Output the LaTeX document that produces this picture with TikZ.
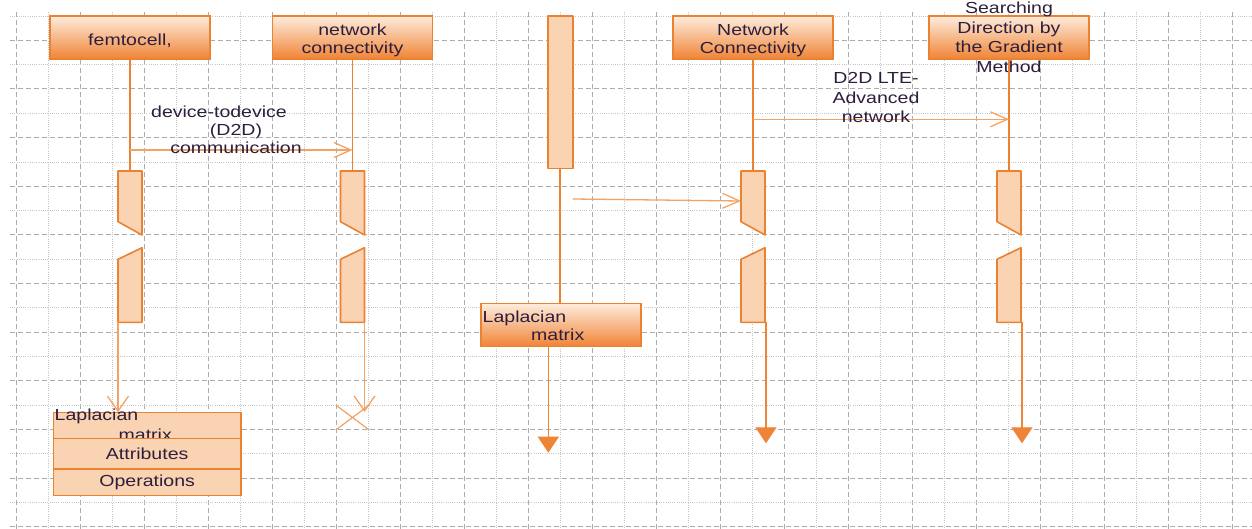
\documentclass[tikz,border=0pt]{standalone}
\usepackage{fontspec}
\setmainfont{Liberation Sans}[FakeStretch=1.22]
\usetikzlibrary{positioning,calc,arrows.meta}

\definecolor{umlorange}{RGB}{234,130,50}
\definecolor{umlline}{RGB}{243,163,100}
\definecolor{umlpeach}{RGB}{250,211,178}
\definecolor{umllight}{RGB}{254,236,220}
\definecolor{umldeep}{RGB}{240,132,54}
\definecolor{umltext}{RGB}{45,30,62}
\definecolor{gridmajor}{RGB}{172,172,172}
\definecolor{gridminor}{RGB}{198,198,198}

\tikzset{
  headbox/.style={draw=umlorange, line width=1.6pt, top color=umllight, bottom color=umldeep,
    minimum width=160pt, minimum height=43pt, inner sep=0pt},
  boxtext/.style={text=umltext, inner sep=0pt, align=center},
  headtext/.style={boxtext, yshift=-3pt, font=\fontsize{16}{18}\selectfont},
  lifeline/.style={draw=umlorange, line width=1.6pt},
  actbar/.style={draw=umlorange, line width=1.6pt, fill=umlpeach, line join=round},
  msg/.style={draw=umlline, line width=1.3pt, -{Straight Barb[length=17pt,width=15pt,line width=1.3pt]}},
  retline/.style={draw=umlline, line width=1.3pt, -{Straight Barb[length=15pt,width=21pt,line width=1.3pt]}},
  endline/.style={draw=umlline, line width=1.3pt, -{Triangle[length=16pt,width=21pt,fill=umldeep]}, umldeep},
  clsbox/.style={draw=umlorange, line width=1.6pt, fill=umlpeach, minimum width=187.7pt,
    inner sep=0pt, outer sep=0pt, text=umltext},
  actbars/.pic={
    \draw[actbar] (-12,0) -- (12,0) -- (12,64) -- (-12,50.7) -- cycle;
    \draw[actbar] (-12,88.3) -- (12,76.7) -- (12,151.3) -- (-12,151.3) -- cycle;
    \coordinate (-top) at (0,0);
    \coordinate (-tl) at (-12,0);
    \coordinate (-bl) at (-12,151.3);
    \coordinate (-br) at (12,151.3);
  }
}

\begin{document}
\begin{tikzpicture}[x=1pt, y=-1pt, font=\fontsize{16}{19}\selectfont]
  \useasboundingbox (0,0) rectangle (1252,529);
  \fill[white] (0,0) rectangle (1252,529);

  % grid
  \foreach \k in {0,...,38} {
    \pgfmathsetmacro{\gx}{16.7+32*\k}
    \ifodd\k
      \draw[gridminor, line width=0.8pt, dash pattern=on 1pt off 1.2pt] (\gx,12) -- (\gx,529);
    \else
      \draw[gridmajor, line width=1pt, dash pattern=on 5pt off 3pt] (\gx,12) -- (\gx,529);
    \fi
  }
  \foreach \k in {0,...,21} {
    \pgfmathsetmacro{\gy}{16+24.32*\k}
    \ifodd\k
      \draw[gridmajor, line width=1pt, dash pattern=on 5pt off 3pt] (10,\gy) -- (1252,\gy);
    \else
      \draw[gridminor, line width=0.8pt, dash pattern=on 1pt off 1.2pt] (10,\gy) -- (1252,\gy);
    \fi
  }

  % heads
  \node[headbox] (femto) at (130,37.5) {};
  \node[headtext] (femtotxt) at (femto.center) {femtocell,};
  \node[headbox] (netcon) at (352.5,37.5) {};
  \node[headtext] (netcontxt) at (netcon.center) {network\\connectivity};
  \node[headbox] (netcap) at (753,37.5) {};
  \node[headtext] (netcaptxt) at (netcap.center) {Network\\Connectivity};
  \node[headbox] (search) at (1009,37.5) {};
  \node[boxtext, font=\fontsize{16}{19.5}\selectfont] (searchtxt) at (search.center)
    {Searching\\Direction by\\the Gradient\\Method};

  % middle bar
  \node[actbar, draw, minimum width=25pt, minimum height=152.3pt, inner sep=0pt] (mid) at (560.2,92.2) {};
  \node[headbox] (lap) at (561,325) {};
  \node[boxtext, align=left, anchor=north west, font=\fontsize{16}{17.7}\selectfont] (laptxt)
    at (482.5,310.8) {Laplacian\\\hspace*{48.5pt}matrix};

  % activations
  \pic (a1) at (femto.south |- 0,171) {actbars};
  \pic (a2) at (netcon.south |- 0,171) {actbars};
  \pic (a4) at (netcap.south |- 0,171) {actbars};
  \pic (a5) at (search.south |- 0,171) {actbars};

  \draw[lifeline] (femto.south) -- (a1-top);
  \draw[lifeline] (netcon.south) -- (a2-top);
  \draw[lifeline] (netcap.south) -- (a4-top);
  \draw[lifeline] (search.south) -- (a5-top);
  \draw[lifeline] (mid.south) -- (mid.south |- lap.north);

  % messages
  \coordinate (m1) at (0,150);
  \draw[msg] (femto.south |- m1) -- (netcon.south |- m1);
  \node[boxtext, font=\fontsize{16}{18.3}\selectfont] (m1txt) at (236,129.6)
    {device-todevice\hspace*{34pt}\\(D2D)\\communication};

  \coordinate (m2) at (0,119.3);
  \draw[msg] (netcap.south |- m2) -- (search.south |- m2);
  \node[boxtext, font=\fontsize{16}{19.3}\selectfont] (m2txt) at (876,97.6)
    {D2D LTE-\\Advanced\\network};

  \coordinate (m3) at (572.7,199);
  \draw[msg] (m3) -- (a4-tl |- 0,201);

  % class box
  \node[clsbox, minimum height=26pt, anchor=north west] (cls1) at (53.3,412.3) {};
  \node[boxtext, align=left, anchor=north west, font=\fontsize{16}{20}\selectfont] (clstxt)
    at (54.5,408.5) {Laplacian\\\hspace*{64pt}matrix};
  \node[clsbox, minimum height=30.7pt, below=0pt of cls1] (cls2) {Attributes};
  \node[clsbox, minimum height=26.3pt, below=0pt of cls2] (cls3) {Operations};

  % lower lines
  \draw[retline] (a1-bl) -- (a1-bl |- cls1.north);
  \coordinate (stop2) at (364,412);
  \draw[retline] (a2-br) -- (a2-br |- stop2);
  \draw[umlline, line width=1.2pt] (netcon.south |- 0,417.5) ++(-16.7,-12.5) -- ++(33.4,25)
    (netcon.south |- 0,417.5) ++(-16.7,12.5) -- ++(33.4,-25);
  \coordinate (tip4) at (0,443.3);
  \draw[endline] ($(a4-br)+(1,0)$) -- ($(a4-br |- tip4)+(1,0)$);
  \draw[endline] ($(a5-br)+(1,0)$) -- ($(a5-br |- tip4)+(1,0)$);
  \coordinate (lapend) at (548.3,452.7);
  \draw[endline] (lapend |- lap.south) -- (lapend);
\end{tikzpicture}
\end{document}
